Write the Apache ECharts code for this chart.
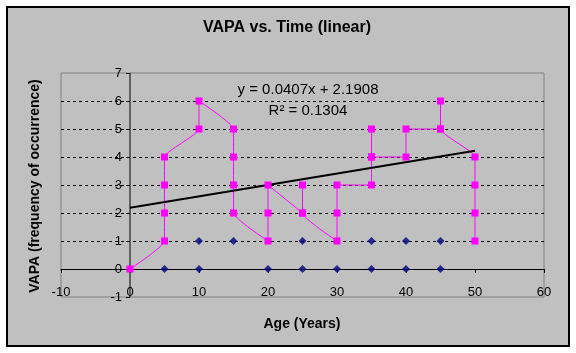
<!DOCTYPE html>
<html>
<head>
<meta charset="utf-8">
<script src="https://cdn.jsdelivr.net/npm/echarts@6/dist/echarts.min.js"></script>
<style>
  html, body { margin: 0; padding: 0; background: #fff; }
  #chart { width: 576px; height: 353px; }
</style>
</head>
<body>
<div id="chart"></div>
<script>
// VAPA series, in plotting order (line passes through them in this order)
const vapaAge = [0, 5, 5, 5, 5, 10, 10, 15, 15, 15, 15, 20, 20, 20, 25, 25, 25, 30, 30, 30, 35, 35, 35, 35, 40, 40, 45, 45, 45, 50, 50, 50, 50]
const vapaCount = [0, 1, 2, 3, 4, 5, 6, 5, 4, 3, 2, 1, 2, 3, 2, 3, 2, 1, 2, 3, 3, 4, 5, 4, 4, 5, 5, 6, 5, 4, 3, 2, 1]
// second series (diamonds)
const otherAge = [5, 10, 20, 25, 30, 35, 40, 45, 10, 15, 25, 35, 40, 45]
const otherCount = [0, 0, 0, 0, 0, 0, 0, 0, 1, 1, 1, 1, 1, 1]
// linear trendline end points
const trendAge = [0, 50]
const trendValue = [2.1908, 4.2258]
// y axis crosses at age 0, spanning the value range
const yAxisCross = 0
const yRange = [-1, 7]

const font = "'Liberation Sans', Arial, sans-serif"
const zip = (xs, ys) => xs.map((x, i) => [x, ys[i]])

const myChart = echarts.init(document.getElementById('chart'))
myChart.setOption({
  backgroundColor: '#fff',
  animation: false,
  textStyle: { fontFamily: font },
  graphic: [
    {
      type: 'rect', z: -10, silent: true,
      shape: { x: 7, y: 7, width: 562, height: 339 },
      style: { fill: '#c0c0c0', stroke: '#000', lineWidth: 2 }
    },
    {
      type: 'text', x: 287, y: 28,
      style: { text: 'VAPA vs. Time (linear)', font: 'bold 16px ' + font, fill: '#000', align: 'center', verticalAlign: 'middle' }
    },
    {
      type: 'text', x: 302, y: 324,
      style: { text: 'Age (Years)', font: 'bold 14px ' + font, fill: '#000', align: 'center', verticalAlign: 'middle' }
    },
    {
      type: 'text', x: 35, y: 186, rotation: Math.PI / 2,
      style: { text: 'VAPA (frequency of occurrence)', font: 'bold 14px ' + font, fill: '#000', align: 'center', verticalAlign: 'middle' }
    },
    {
      type: 'text', x: 308, y: 90,
      style: { text: 'y = 0.0407x + 2.1908', font: '15px ' + font, fill: '#000', align: 'center', verticalAlign: 'middle' }
    },
    {
      type: 'text', x: 308, y: 111,
      style: { text: 'R\u00b2 = 0.1304', font: '15px ' + font, fill: '#000', align: 'center', verticalAlign: 'middle' }
    }
  ],
  grid: {
    left: 61,
    right: 32,
    top: 73,
    bottom: 56,
    show: true,
    backgroundColor: 'transparent',
    borderColor: '#808080',
    borderWidth: 1
  },
  xAxis: [
    {
      type: 'value', min: -10, max: 60, interval: 10,
      axisLine: { onZero: true, lineStyle: { color: '#000', width: 1 } },
      axisTick: { show: true, length: 4, lineStyle: { color: '#000' } },
      axisLabel: { show: false },
      splitLine: { show: false }
    },
    {
      type: 'value', min: -10, max: 60, interval: 10, position: 'bottom',
      axisLine: { show: false, onZero: false },
      axisTick: { show: false },
      axisLabel: { show: true, margin: -11, color: '#000', fontSize: 13, fontFamily: font },
      splitLine: { show: false }
    }
  ],
  yAxis: {
    // labels and ticks, shifted right onto x = 0
    type: 'value', min: -1, max: 7, interval: 1,
    position: 'left',
    offset: -69,
    axisLine: { show: false, onZero: false },
    axisTick: { show: true, length: 4, lineStyle: { color: '#000' } },
    axisLabel: { color: '#000', fontSize: 13, margin: 8, fontFamily: font },
    splitLine: {
      show: true,
      showMinLine: false,
      showMaxLine: false,
      lineStyle: { color: '#000', type: [3, 3], width: 1 }
    }
  },
  series: [
    {
      name: 'y axis line',
      type: 'line',
      symbol: 'none',
      silent: true,
      z: 1,
      lineStyle: { color: '#000', width: 1 },
      data: yRange.map(v => [yAxisCross, v])
    },
    {
      name: 'other',
      type: 'scatter',
      symbol: 'diamond',
      symbolSize: 8,
      itemStyle: { color: '#000080' },
      data: zip(otherAge, otherCount)
    },
    {
      name: 'VAPA',
      type: 'line',
      smooth: 0.15,
      symbol: 'rect',
      symbolSize: 7,
      showAllSymbol: true,
      lineStyle: { color: '#ff00ff', width: 1 },
      itemStyle: { color: '#ff00ff' },
      data: zip(vapaAge, vapaCount)
    },
    {
      name: 'Linear (VAPA)',
      type: 'line',
      symbol: 'none',
      lineStyle: { color: '#000', width: 2 },
      data: zip(trendAge, trendValue)
    }
  ]
})
</script>
</body>
</html>
